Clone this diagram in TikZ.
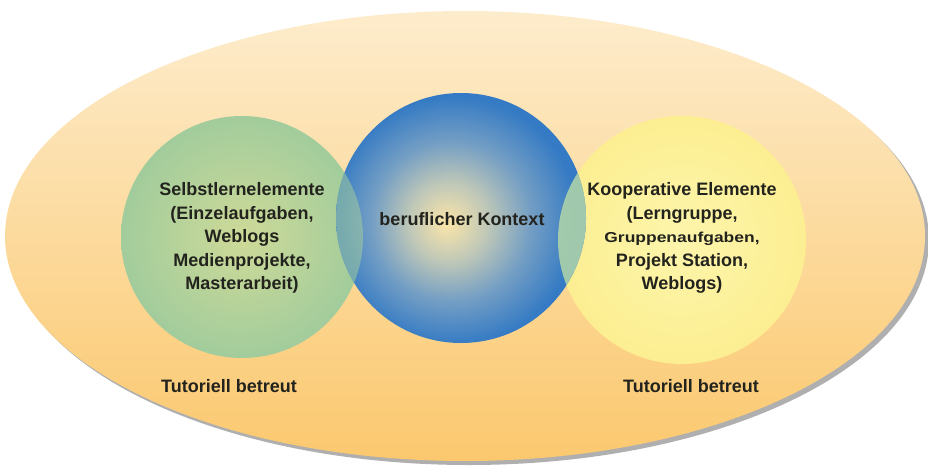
\documentclass[tikz,border=0pt]{standalone}
\usepackage{fontspec}
\usepackage{graphicx}
\setmainfont{Liberation Sans}
\usetikzlibrary{shapes.geometric}
\definecolor{bgtop}{RGB}{253,236,204}
\definecolor{bgbot}{RGB}{251,200,110}
\definecolor{shadowc}{RGB}{175,175,175}
\definecolor{grin}{RGB}{206,218,152}
\definecolor{grout}{RGB}{162,204,156}
\definecolor{yein}{RGB}{253,245,172}
\definecolor{yeout}{RGB}{252,238,145}
\definecolor{lensr}{RGB}{178,214,168}
\definecolor{blA}{RGB}{252,230,168}
\definecolor{blB}{RGB}{190,199,184}
\definecolor{blC}{RGB}{115,158,196}
\definecolor{blD}{RGB}{52,122,196}
\definecolor{txt}{RGB}{35,35,30}
\pgfdeclareradialshading{bluesh}{\pgfpoint{-3bp}{-1bp}}{color(0bp)=(blA); color(8bp)=(blB); color(16bp)=(blC); color(25bp)=(blD); color(50bp)=(blD)}
\tikzset{
  blob/.style={circle, inner sep=0pt, minimum size=#1},
  lbl/.style={align=center, text=txt, font=\bfseries\fontsize{18}{23.5}\selectfont},
}
\begin{document}
\begin{tikzpicture}[x=1pt,y=-1pt]
\useasboundingbox (0,0) rectangle (928,466);
% background ellipse with shadow
\node[ellipse, inner sep=0pt, minimum width=920, minimum height=450, fill=shadowc] (shadow) at (469,240) {};
\node[ellipse, inner sep=0pt, minimum width=920, minimum height=450, top color=bgtop, bottom color=bgbot] (bg) at (465,236) {};
% circles
\node[blob=242, inner color=grin, outer color=grout] (green) at (242,237) {};
\node[blob=248, inner color=yein, outer color=yeout] (yellow) at (682,240) {};
\node[blob=250, shading=bluesh] (blue) at (461,218) {};
% overlaps
\begin{scope}
  \clip (blue.center) circle (125);
  \fill[grout, opacity=0.55] (green.center) circle (121);
  \fill[lensr, opacity=0.85] (yellow.center) circle (124);
\end{scope}
% texts
\node[lbl] (ltxt) at (242,238) {Selbstlernelemente\\(Einzelaufgaben,\\Weblogs\\Medienprojekte,\\Masterarbeit)};
\node[lbl] (mtxt) at (462,219) {beruflicher Kontext};
\node[lbl] (rtxt) at (682,238) {Kooperative Elemente\\(Lerngruppe,\\\scalebox{0.97}[0.8]{Gruppenaufgaben,}\\Projekt Station,\\Weblogs)};
\node[lbl] (ltut) at (229,386) {Tutoriell betreut};
\node[lbl] (rtut) at (691,386) {Tutoriell betreut};
\end{tikzpicture}
\end{document}
